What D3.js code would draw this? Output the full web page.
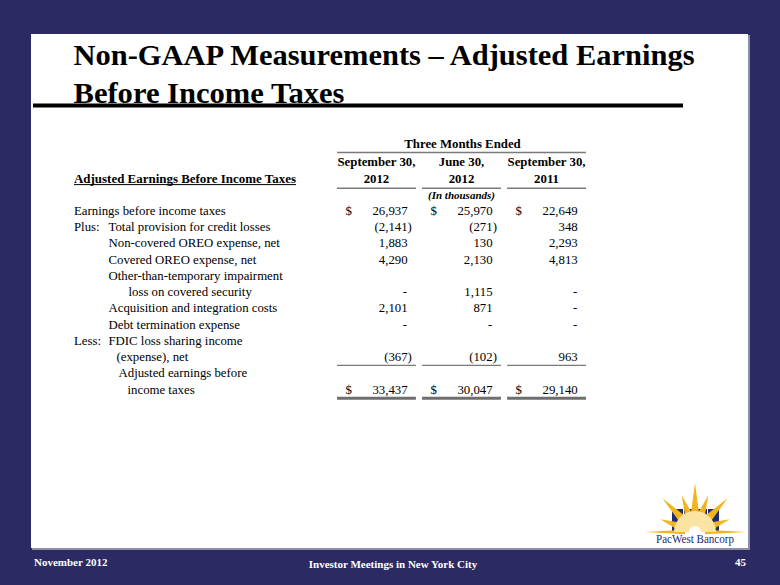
<!DOCTYPE html>
<html><head><meta charset="utf-8">
<script src="https://cdn.jsdelivr.net/npm/d3@7"></script>
<style>
html,body{margin:0;padding:0;background:#2C2A63;}
svg{display:block;}
</style></head>
<body>
<script>
// ---------- data ----------
const titleLines = ["Non-GAAP Measurements \u2013 Adjusted Earnings", "Before Income Taxes"];
const tableTitle = "Adjusted Earnings Before Income Taxes";
const spanHeader = "Three Months Ended";
const unitsNote = "(In thousands)";
const periodTop = ["September 30,", "June 30,", "September 30,"];
const periodBottom = ["2012", "2012", "2011"];
const itemPrefix = ["", "Plus:", "", "", "", "", "", "Less:", ""];
const itemLabels = [
  ["Earnings before income taxes"],
  ["Total provision for credit losses"],
  ["Non-covered OREO expense, net"],
  ["Covered OREO expense, net"],
  ["Other-than-temporary impairment", "loss on covered security"],
  ["Acquisition and integration costs"],
  ["Debt termination expense"],
  ["FDIC loss sharing income", "(expense), net"],
  ["Adjusted earnings before", "income taxes"]
];
const sep30_2012 = [26937, -2141, 1883, 4290, 0, 2101, 0, -367, 33437];
const jun30_2012 = [25970, -271, 130, 2130, 1115, 871, 0, -102, 30047];
const sep30_2011 = [22649, 348, 2293, 4813, 0, 0, 0, 963, 29140];
const dollarRows = [0, 8];
const footerLeft = "November 2012";
const footerCenter = "Investor Meetings in New York City";
const pageNumber = "45";
const logoText = "PacWest Bancorp";

// ---------- layout ----------
const W = 780, H = 585;
const serif = "'Liberation Serif','Times New Roman',Times,serif";
const svg = d3.select("body").append("svg").attr("width", W).attr("height", H);

svg.append("rect").attr("width", W).attr("height", H).attr("fill", "#2C2A63");
// panel shadow + panel
svg.append("rect").attr("x", 32).attr("y", 35).attr("width", 718).attr("height", 515).attr("fill", "#8d8da8");
svg.append("rect").attr("x", 31).attr("y", 34).attr("width", 717).attr("height", 514).attr("fill", "#ffffff");

// title
const titleX = 73.5, titleBase = [64.5, 102.5], titleLen = [621, 271];
titleLines.forEach((t, i) => {
  svg.append("text").attr("x", titleX).attr("y", titleBase[i])
    .attr("font-family", serif).attr("font-weight", "bold").attr("font-size", 30)
    .attr("textLength", titleLen[i]).attr("lengthAdjust", "spacingAndGlyphs")
    .attr("fill", "#000").text(t);
});
svg.append("line").attr("x1", 33).attr("x2", 683).attr("y1", 105.5).attr("y2", 105.5)
  .attr("stroke", "#000").attr("stroke-width", 4);

// table scales
const periods = periodTop.map((d, i) => d + " " + periodBottom[i]);
const x = d3.scaleBand().domain(periods).range([337, 586]).paddingInner(0.072).paddingOuter(0);
const lineCounts = itemLabels.map(l => l.length);
const totalLines = d3.sum(lineCounts);
const yLine = d3.scaleLinear().domain([0, totalLines - 1]).range([214.8, 393.6]);
const fs = 12.8;
const rule = "#7a7a7a";

// span header
svg.append("text").attr("x", (x.range()[0] + x.range()[1]) / 2 + 1).attr("y", 147.5)
  .attr("text-anchor", "middle").attr("font-family", serif).attr("font-weight", "bold")
  .attr("font-size", fs).text(spanHeader);
svg.append("line").attr("x1", x.range()[0]).attr("x2", x.range()[1]).attr("y1", 152.5).attr("y2", 152.5)
  .attr("stroke", rule).attr("stroke-width", 1.6);

// period headers
const ph = svg.append("g").selectAll("g").data(periods).join("g");
ph.append("text").attr("x", d => x(d) + x.bandwidth() / 2).attr("y", 165.5)
  .attr("text-anchor", "middle").attr("font-family", serif).attr("font-weight", "bold")
  .attr("font-size", fs).text((d, i) => periodTop[i]);
ph.append("text").attr("x", d => x(d) + x.bandwidth() / 2).attr("y", 182.5)
  .attr("text-anchor", "middle").attr("font-family", serif).attr("font-weight", "bold")
  .attr("font-size", fs).text((d, i) => periodBottom[i]);
ph.append("line").attr("x1", d => x(d)).attr("x2", d => x(d) + x.bandwidth())
  .attr("y1", 188.3).attr("y2", 188.3).attr("stroke", rule).attr("stroke-width", 1.6);

svg.append("text").attr("x", x(periods[1]) + x.bandwidth() / 2).attr("y", 198.5)
  .attr("text-anchor", "middle").attr("font-family", serif).attr("font-weight", "bold")
  .attr("font-style", "italic").attr("font-size", 11).text(unitsNote);

// table title (underlined)
svg.append("text").attr("x", 74).attr("y", 182.5).attr("font-family", serif)
  .attr("font-weight", "bold").attr("font-size", fs).attr("textLength", 222)
  .attr("lengthAdjust", "spacingAndGlyphs").text(tableTitle);
svg.append("line").attr("x1", 74).attr("x2", 296).attr("y1", 184.6).attr("y2", 184.6)
  .attr("stroke", "#000").attr("stroke-width", 1);

// rows
const labelX = 74, mainX = 108.5;
const firstIndent = [-34.5, 0, 0, 0, 0, 0, 0, 0, 10];
const contIndent = [0, 0, 0, 0, 20, 0, 0, 8, 19];
let startLine = 0;
const itemLastLine = [];
itemLabels.forEach((lines, i) => {
  lines.forEach((t, j) => {
    const yy = yLine(startLine + j);
    const xx = mainX + (j === 0 ? firstIndent[i] : contIndent[i]);
    svg.append("text").attr("x", xx).attr("y", yy).attr("font-family", serif)
      .attr("font-size", fs).attr("fill", "#000").text(t);
  });
  if (itemPrefix[i]) {
    svg.append("text").attr("x", labelX).attr("y", yLine(startLine)).attr("font-family", serif)
      .attr("font-size", fs).text(itemPrefix[i]);
  }
  itemLastLine.push(startLine + lines.length - 1);
  startLine += lines.length;
});

// values
const series = [sep30_2012, jun30_2012, sep30_2011];
const fmt = d3.format(",");
series.forEach((vals, c) => {
  const p = periods[c];
  const edge = x(p) + x.bandwidth() - 8.3;
  vals.forEach((v, i) => {
    const yy = yLine(itemLastLine[i]);
    const g = svg.append("g").attr("font-family", serif).attr("font-size", fs);
    if (v === 0) {
      g.append("text").attr("x", edge - 0.5).attr("y", yy).attr("text-anchor", "end").text("-");
    } else if (v < 0) {
      g.append("text").attr("x", edge).attr("y", yy).attr("text-anchor", "end").text("(" + fmt(-v));
      g.append("text").attr("x", edge).attr("y", yy).text(")");
    } else {
      g.append("text").attr("x", edge).attr("y", yy).attr("text-anchor", "end").text(fmt(v));
    }
    if (dollarRows.includes(i)) {
      g.append("text").attr("x", x(p) + 8.5).attr("y", yy).text("$");
    }
  });
  // rules
  svg.append("line").attr("x1", x(p)).attr("x2", x(p) + x.bandwidth())
    .attr("y1", yLine(itemLastLine[7]) + 4.3).attr("y2", yLine(itemLastLine[7]) + 4.3)
    .attr("stroke", rule).attr("stroke-width", 1.4);
  svg.append("line").attr("x1", x(p)).attr("x2", x(p) + x.bandwidth())
    .attr("y1", yLine(itemLastLine[8]) + 4.6).attr("y2", yLine(itemLastLine[8]) + 4.6)
    .attr("stroke", "#6e6e6e").attr("stroke-width", 3);
});

// footer
const ff = svg.append("g").attr("font-family", serif).attr("font-weight", "bold")
  .attr("font-size", 11).attr("fill", "#ffffff");
ff.append("text").attr("x", 34).attr("y", 565.5).text(footerLeft);
ff.append("text").attr("x", 393).attr("y", 567.5).attr("text-anchor", "middle").text(footerCenter);
ff.append("text").attr("x", 746).attr("y", 566).attr("text-anchor", "end").text(pageNumber);

// logo
const lg = svg.append("g");
const cx = 695, cy = 532;
[0, 1, 2, 3].forEach(k => {
  lg.append("rect").attr("x", 672 + k * 12).attr("y", 509).attr("width", 11).attr("height", 23).attr("fill", "#1E2B6F");
});
const rays = [[180, 50], [160, 37], [134, 47], [110, 39], [90, 49], [70, 39], [46, 47], [20, 37], [0, 51]];
rays.forEach(([a, L]) => {
  const r = a * Math.PI / 180;
  const tx = cx + L * Math.cos(r), ty = cy - L * Math.sin(r);
  const w = (a === 0 || a === 180) ? 2.2 : 5.2;
  const px = Math.sin(r) * w, py = Math.cos(r) * w;
  const bx = cx + 10 * Math.cos(r), by = cy - 10 * Math.sin(r);
  lg.append("path").attr("d", `M${bx - px},${by - py}L${tx},${ty}L${bx + px},${by + py}Z`).attr("fill", "#F3B41C");
});
lg.append("path").attr("d", d3.arc()({innerRadius: 0, outerRadius: 21, startAngle: -Math.PI / 2, endAngle: Math.PI / 2}))
  .attr("transform", `translate(${cx},${cy})`).attr("fill", "#FBE3A2");
lg.append("path").attr("d", d3.arc()({innerRadius: 0, outerRadius: 6, startAngle: -Math.PI / 2, endAngle: Math.PI / 2}))
  .attr("transform", `translate(${cx},${cy})`).attr("fill", "#ffffff");
lg.append("text").attr("x", 695).attr("y", 543).attr("text-anchor", "middle").attr("font-family", serif)
  .attr("font-size", 12.5).attr("fill", "#1E2B6F").attr("textLength", 78).attr("lengthAdjust", "spacingAndGlyphs").text(logoText);
</script>
</body></html>
